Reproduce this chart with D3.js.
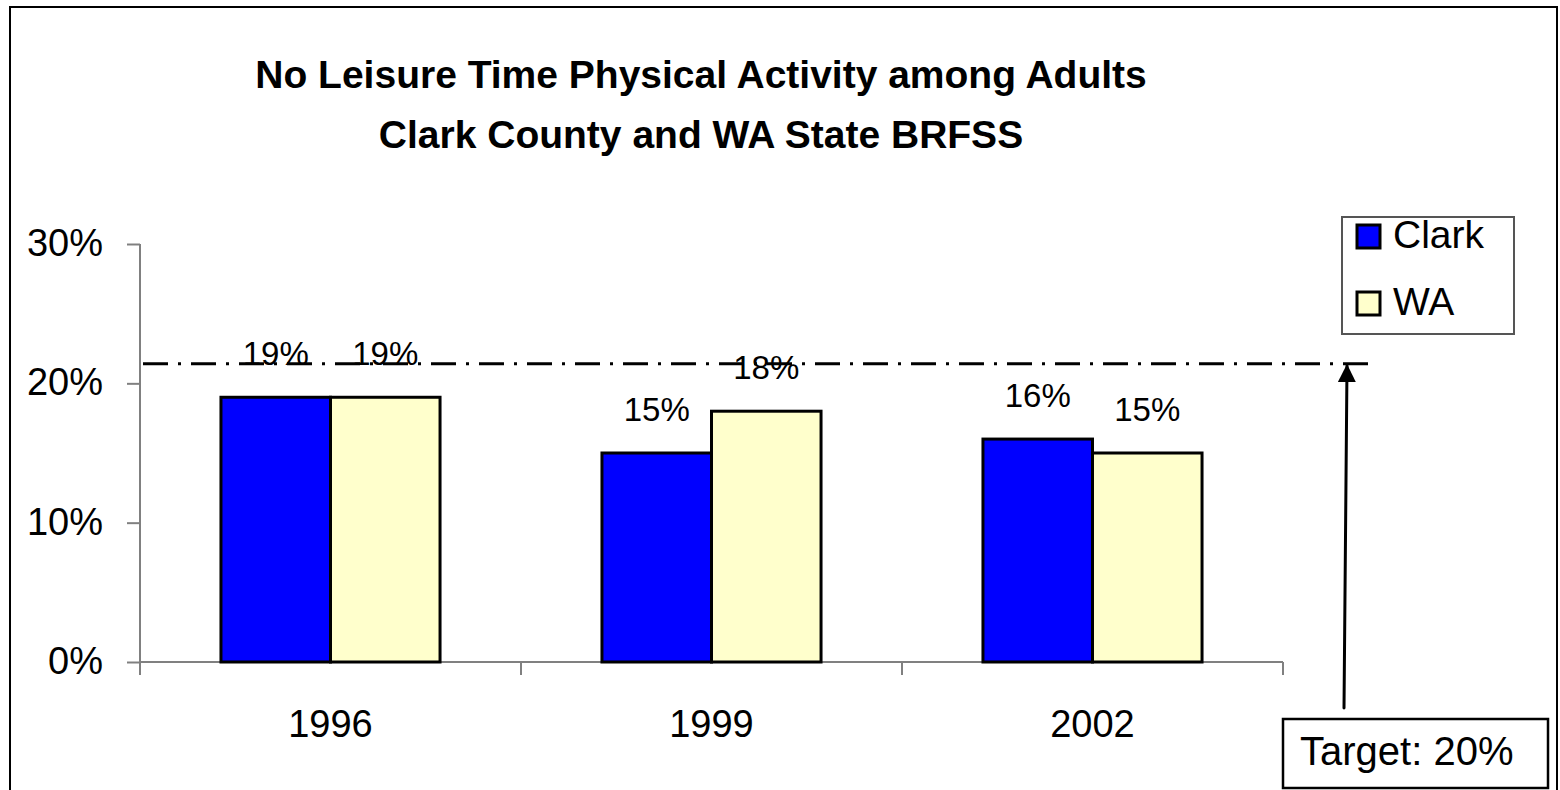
<!DOCTYPE html>
<html>
<head>
  <meta charset="utf-8">
  <script src="https://d3js.org/d3.v7.min.js"></script>
  <style>
    body { margin: 0; background: #fff; }
    text { font-family: "Liberation Sans", Arial, sans-serif; }
  </style>
</head>
<body>
<div id="chart"></div>
<script>
// data
var years = ["1996", "1999", "2002"];
var seriesNames = ["Clark", "WA"];
var clark = [19, 15, 16];
var wa = [19, 18, 15];
var yTicks = [0, 10, 20, 30];
var targetLine = 21.4;          // where the dash-dot line sits
var targetLabel = "Target: 20%";
var titleLines = ["No Leisure Time Physical Activity among Adults",
                  "Clark County and WA State BRFSS"];
var colors = {Clark: "#0000ff", WA: "#ffffcc"};

var W = 1560, H = 790;
var svg = d3.select("#chart").append("svg")
    .attr("width", W).attr("height", H);

// outer frame
svg.append("rect")
    .attr("x", 10).attr("y", 7)
    .attr("width", 1547).attr("height", 820)
    .attr("fill", "none").attr("stroke", "black").attr("stroke-width", 2);

// title
svg.selectAll(".title")
  .data(titleLines)
  .enter().append("text")
    .attr("x", 701)
    .attr("y", function (d, i) { return 88 + i * 60; })
    .attr("text-anchor", "middle")
    .style("font-size", "39px")
    .style("font-weight", "bold")
    .text(function (d) { return d; });

// scales
var plotL = 140, plotR = 1283, plotT = 244, plotB = 662;
var y = d3.scaleLinear().domain([0, 30]).range([plotB, plotT]);
var x0 = d3.scaleBand().domain(years).range([plotL, plotR]).padding(0);
var x1 = d3.scaleBand().domain(seriesNames)
    .range([x0.bandwidth() * 0.2125, x0.bandwidth() * 0.7875]);

// y axis
var yAxis = svg.append("g")
    .attr("transform", "translate(" + plotL + ",0)")
    .call(d3.axisLeft(y).tickValues(yTicks).tickSize(13).tickPadding(24)
      .tickFormat(function (d) { return d + "%"; }));
yAxis.select(".domain").attr("stroke", "#808080").attr("stroke-width", 2)
    .attr("d", "M0," + plotT + "V" + (plotB + 10));
yAxis.selectAll(".tick line").attr("stroke", "#808080").attr("stroke-width", 2);
yAxis.selectAll(".tick text")
    .style("font-size", "38px").attr("fill", "black").attr("dy", "0.3em");

// x axis: ticks at category boundaries
var xg = svg.append("g");
xg.append("line")
    .attr("x1", plotL).attr("x2", plotR)
    .attr("y1", plotB).attr("y2", plotB)
    .attr("stroke", "#808080").attr("stroke-width", 2);
var bounds = years.map(function (d) { return x0(d); }).concat([plotR]);
xg.selectAll(".xt")
  .data(bounds)
  .enter().append("line")
    .attr("x1", function (d) { return d; }).attr("x2", function (d) { return d; })
    .attr("y1", plotB).attr("y2", plotB + 13)
    .attr("stroke", "#808080").attr("stroke-width", 2);
xg.selectAll(".xl")
  .data(years)
  .enter().append("text")
    .attr("x", function (d) { return x0(d) + x0.bandwidth() / 2; })
    .attr("y", 737)
    .attr("text-anchor", "middle")
    .style("font-size", "38px")
    .text(function (d) { return d; });

// bars
var rows = years.map(function (yr, i) {
  return {year: yr, values: [{key: "Clark", v: clark[i]}, {key: "WA", v: wa[i]}]};
});
var groups = svg.selectAll(".grp")
  .data(rows)
  .enter().append("g")
    .attr("transform", function (d) { return "translate(" + x0(d.year) + ",0)"; });

groups.selectAll("rect")
  .data(function (d) { return d.values; })
  .enter().append("rect")
    .attr("x", function (d) { return x1(d.key); })
    .attr("y", function (d) { return y(d.v); })
    .attr("width", x1.bandwidth())
    .attr("height", function (d) { return plotB - y(d.v); })
    .attr("fill", function (d) { return colors[d.key]; })
    .attr("stroke", "black").attr("stroke-width", 3);

// target line
svg.append("line")
    .attr("x1", 143).attr("x2", 1377)
    .attr("y1", y(targetLine)).attr("y2", y(targetLine))
    .attr("stroke", "black").attr("stroke-width", 3)
    .attr("stroke-dasharray", "25,10,3,10");

// value labels
groups.selectAll(".lbl")
  .data(function (d) { return d.values; })
  .enter().append("text")
    .attr("x", function (d) { return x1(d.key) + x1.bandwidth() / 2; })
    .attr("y", function (d) { return y(d.v) - 32; })
    .attr("text-anchor", "middle")
    .style("font-size", "33px")
    .text(function (d) { return d.v + "%"; });

// legend
var lg = svg.append("g");
lg.append("rect")
    .attr("x", 1342).attr("y", 217).attr("width", 172).attr("height", 117)
    .attr("fill", "white").attr("stroke", "#555").attr("stroke-width", 2);
var legY = [225, 292];
seriesNames.forEach(function (s, i) {
  lg.append("rect")
      .attr("x", 1357).attr("y", legY[i]).attr("width", 23).attr("height", 23)
      .attr("fill", colors[s]).attr("stroke", "black").attr("stroke-width", 3);
  lg.append("text")
      .attr("x", 1393).attr("y", legY[i] + 23)
      .style("font-size", "39px")
      .text(s);
});

// arrow + target box
svg.append("defs").append("marker")
    .attr("id", "head").attr("viewBox", "0 0 10 10")
    .attr("refX", 9).attr("refY", 5)
    .attr("markerWidth", 6).attr("markerHeight", 6)
    .attr("markerUnits", "strokeWidth")
    .attr("orient", "auto")
  .append("path").attr("d", "M0,0L10,5L0,10Z").attr("fill", "black");
svg.append("line")
    .attr("x1", 1344).attr("y1", 708)
    .attr("x2", 1347).attr("y2", y(targetLine) + 2)
    .attr("stroke", "black").attr("stroke-width", 3)
    .attr("stroke-linecap", "round")
    .attr("marker-end", "url(#head)");
svg.append("rect")
    .attr("x", 1283).attr("y", 719).attr("width", 265).attr("height", 69)
    .attr("fill", "white").attr("stroke", "black").attr("stroke-width", 2.5);
svg.append("text")
    .attr("x", 1300).attr("y", 765)
    .style("font-size", "40px")
    .text(targetLabel);
</script>
</body>
</html>
